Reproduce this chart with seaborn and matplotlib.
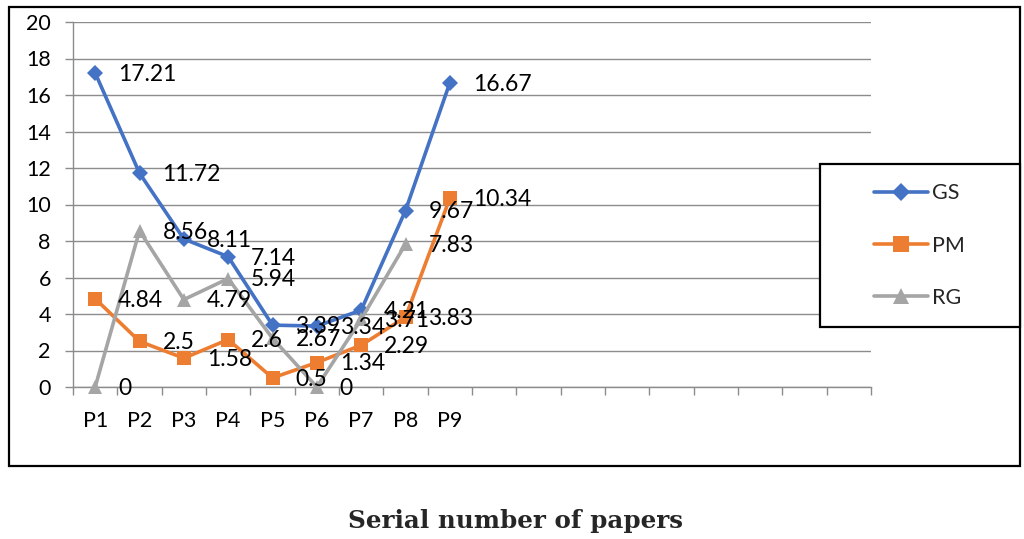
import numpy as np
import pandas as pd
import matplotlib
matplotlib.use("Agg")
import matplotlib.pyplot as plt
from matplotlib.patches import Rectangle
from matplotlib.lines import Line2D
import seaborn as sns

categories = ["P1", "P2", "P3", "P4", "P5", "P6", "P7", "P8", "P9"]
n_slots = 18
gs = [17.21, 11.72, 8.11, 7.14, 3.39, 3.34, 4.21, 9.67, 16.67]
pm = [4.84, 2.5, 1.58, 2.6, 0.5, 1.34, 2.29, 3.83, 10.34]
rg = [0, 8.56, 4.79, 5.94, 2.67, 0, 3.71, 7.83, np.nan]
series_names = ["GS", "PM", "RG"]
series_values = [gs, pm, rg]
colors = {"GS": "#4472C4", "PM": "#ED7D31", "RG": "#A5A5A5"}
markers = {"GS": "D", "PM": "s", "RG": "^"}
msizes = {"GS": 8.5, "PM": 10, "RG": 10}

rows = []
for name, vals in zip(series_names, series_values):
    for i, v in enumerate(vals):
        rows.append({"x": i, "cat": categories[i], "series": name, "value": v})
df = pd.DataFrame(rows)

sns.set_theme(style="white")
plt.rcParams["font.family"] = ["Lato", "DejaVu Sans"]

fig = plt.figure(figsize=(10.24, 5.39), dpi=100)
ax = fig.add_axes([73 / 1024, 1 - 387 / 539, (871 - 73) / 1024, (387 - 22) / 539])

for name in series_names:
    sub = df[df["series"] == name].dropna()
    sns.lineplot(data=sub, x="x", y="value", color=colors[name], marker=markers[name],
                 markersize=msizes[name], markeredgewidth=0, linewidth=2.6,
                 ax=ax, legend=False, zorder=3, clip_on=False)
    for _, r in sub.iterrows():
        v = r["value"]
        txt = ("%g" % v)
        ax.annotate(txt, (r["x"], v), xytext=(16.5, -1), textcoords="offset points",
                    ha="left", va="center", fontsize=16.5, color="black", zorder=4,
                    annotation_clip=False)

ax.set_xlim(-0.5, n_slots - 0.5)
ax.set_ylim(0, 20)
ax.set_yticks(np.arange(0, 21, 2))
ax.set_yticklabels([str(v) for v in range(0, 21, 2)], fontsize=15.5)
ax.set_xticks(np.arange(-0.5, n_slots, 1.0))
ax.set_xticklabels([])
ax.set_xticks(np.arange(len(categories)), minor=True)
ax.set_xticklabels(categories, minor=True, fontsize=15.5)
ax.tick_params(axis="x", which="major", length=6, width=1, color="#8c8c8c", direction="out", bottom=True)
ax.tick_params(axis="x", which="minor", length=0, pad=17, colors="black")
ax.tick_params(axis="y", which="major", length=6, width=1, color="#8c8c8c", direction="out", left=True, pad=10, labelcolor="black")
ax.yaxis.grid(True, color="#8c8c8c", linewidth=1.0)
ax.xaxis.grid(False)
ax.set_axisbelow(True)
for s in ["top", "right"]:
    ax.spines[s].set_visible(False)
for s in ["left", "bottom"]:
    ax.spines[s].set_color("#8c8c8c")
    ax.spines[s].set_linewidth(1.0)
ax.set_xlabel("")
ax.set_ylabel("")

# Legend box
fig.patches.append(Rectangle((820 / 1024, 1 - 327 / 539), 200 / 1024, 163 / 539,
                             transform=fig.transFigure, facecolor="white", edgecolor="black",
                             linewidth=1.6, zorder=5))
handles = [Line2D([], [], color=colors[n], marker=markers[n], markersize=msizes[n] + 1,
                  markeredgewidth=0, linewidth=2.6) for n in series_names]
leg = fig.legend(handles, series_names, loc="center left",
                 bbox_to_anchor=(874 / 1024, 1 - 245.5 / 539), frameon=False,
                 fontsize=15.5, handlelength=2.5, handletextpad=0.2, labelspacing=1.5,
                 borderpad=0, borderaxespad=0)
leg.set_zorder(6)

# Outer frame
fig.patches.append(Rectangle((9 / 1024, 1 - 466 / 539), 1011 / 1024, 459 / 539,
                             transform=fig.transFigure, facecolor="none", edgecolor="black",
                             linewidth=1.6, zorder=0))

fig.text(516 / 1024, 1 - 521 / 539, "Serial number of papers", ha="center", va="center",
         fontsize=17.7, fontweight="bold", family="DejaVu Serif")

fig.savefig("out.png", dpi=100)
